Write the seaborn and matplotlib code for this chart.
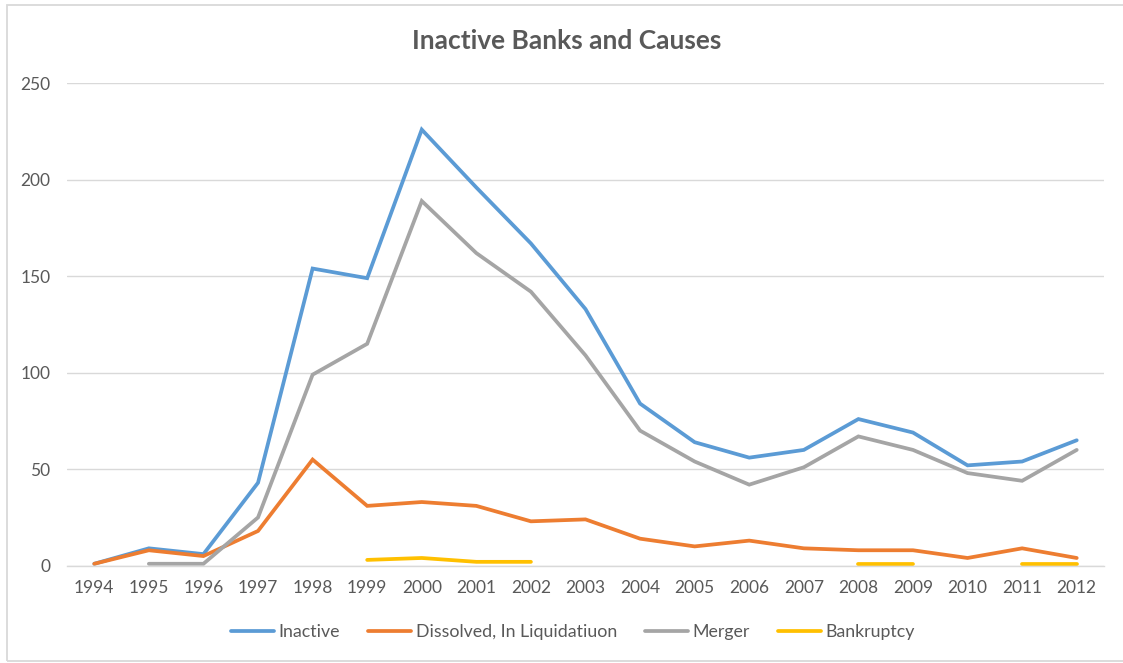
import numpy as np
import pandas as pd
import matplotlib
matplotlib.use("Agg")
import matplotlib.pyplot as plt
from matplotlib.patches import Rectangle
import seaborn as sns

years = [1994, 1995, 1996, 1997, 1998, 1999, 2000, 2001, 2002, 2003,
         2004, 2005, 2006, 2007, 2008, 2009, 2010, 2011, 2012]
nan = np.nan
inactive = [1, 9, 6, 43, 154, 149, 226, 196, 167, 133, 84, 64, 56, 60, 76, 69, 52, 54, 65]
dissolved = [1, 8, 5, 18, 55, 31, 33, 31, 23, 24, 14, 10, 13, 9, 8, 8, 4, 9, 4]
merger = [nan, 1, 1, 25, 99, 115, 189, 162, 142, 109, 70, 54, 42, 51, 67, 60, 48, 44, 60]
bankruptcy = [nan, nan, nan, nan, nan, 3, 4, 2, 2, nan, nan, nan, nan, nan, 1, 1, nan, 1, 1]

series_names = ["Inactive", "Dissolved, In Liquidatiuon", "Merger", "Bankruptcy"]
series_values = [inactive, dissolved, merger, bankruptcy]
colors = ["#5B9BD5", "#ED7D31", "#A5A5A5", "#FFC000"]

# Long-form table; gaps split a series into separate runs
frames = []
for name, vals in zip(series_names, series_values):
    s = pd.Series(vals, dtype=float)
    run = s.isna().cumsum()
    d = pd.DataFrame({"pos": np.arange(len(years)), "value": s,
                      "series": name, "run": name + "_" + run.astype(str)})
    frames.append(d.dropna())
df = pd.concat(frames, ignore_index=True)

sns.set_theme(style="white")
plt.rcParams["font.family"] = ["Lato", "DejaVu Sans"]
text_color = "#595959"

fig = plt.figure(figsize=(11.23, 6.63), dpi=100)
ax = fig.add_axes([67 / 1123, 1 - 565.7 / 663, (1104 - 67) / 1123, (565.7 - 83.3) / 663])

sns.lineplot(data=df, x="pos", y="value", hue="series", units="run",
             estimator=None, sort=False, hue_order=series_names,
             palette=dict(zip(series_names, colors)), linewidth=2.7,
             solid_capstyle="round", solid_joinstyle="miter", ax=ax)

ax.set_xlim(-0.5, len(years) - 0.5)
ax.set_ylim(0, 250)
ax.set_yticks([0, 50, 100, 150, 200, 250])
ax.set_xticks(np.arange(len(years)))
ax.set_xticklabels([str(y) for y in years])
ax.set_xlabel("")
ax.set_ylabel("")
ax.yaxis.grid(True, color="#D9D9D9", linewidth=1.0)
ax.set_axisbelow(True)
for side in ["top", "right", "left"]:
    ax.spines[side].set_visible(False)
ax.spines["bottom"].set_color("#D9D9D9")
ax.spines["bottom"].set_linewidth(1.0)
ax.tick_params(axis="both", length=0, labelsize=12.5, labelcolor=text_color)
ax.tick_params(axis="x", pad=10)
ax.tick_params(axis="y", pad=12)

ax.get_legend().remove()
handles, labels = ax.get_legend_handles_labels()
fig.legend(handles[:4], labels[:4], loc="center", bbox_to_anchor=(573 / 1123, 1 - 632 / 663),
           ncol=4, frameon=False, prop={"size": 12.8}, labelcolor=text_color,
           handlelength=2.4, handletextpad=0.25, columnspacing=1.6)

fig.text(567 / 1123, 1 - 41 / 663, "Inactive Banks and Causes", ha="center", va="center",
         fontsize=19, fontweight="bold", color=text_color)

# Chart-area border
fig.patches.append(Rectangle((7 / 1123, 1 - 661 / 663), 1.2, (661 - 5) / 663,
                             transform=fig.transFigure, fill=False,
                             edgecolor="#D9D9D9", linewidth=1.3))

fig.savefig("out.png", dpi=100, facecolor="white")
